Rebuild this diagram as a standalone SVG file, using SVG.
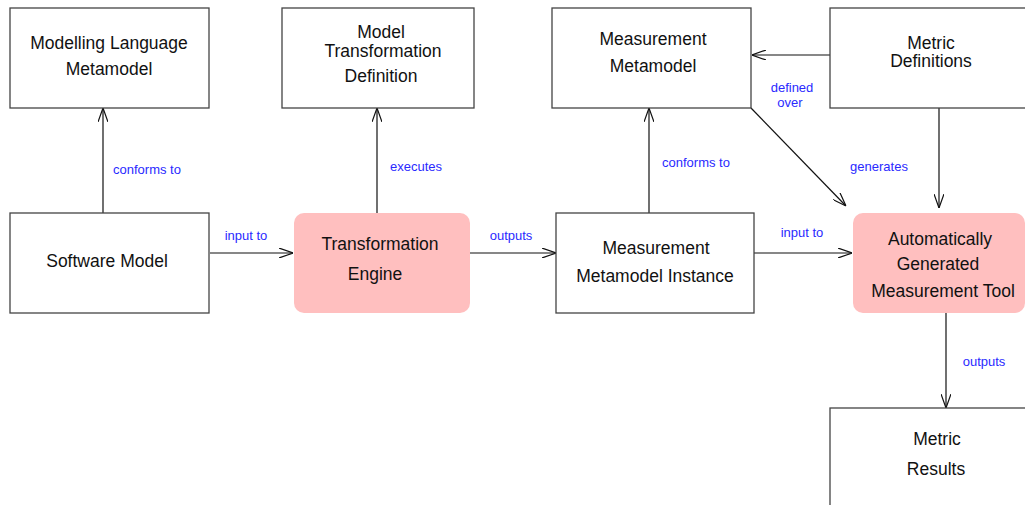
<svg xmlns="http://www.w3.org/2000/svg" width="1025" height="505" viewBox="0 0 1025 505">
<defs>
<style>
.box{fill:#fff;stroke:#444;stroke-width:1.3}
.pink{fill:#ffbfbf;stroke:none}
.t{font-family:"Liberation Sans",Arial,sans-serif;font-size:17.5px;fill:#111;text-anchor:middle}
.l{font-family:"Liberation Sans",Arial,sans-serif;font-size:13px;fill:#2a2aff;text-anchor:middle}
.c{stroke:#111;stroke-width:1.2;fill:none;marker-end:url(#arr)}
</style>
<marker id="arr" viewBox="0 0 14 10" refX="14" refY="5" markerWidth="14" markerHeight="10" markerUnits="userSpaceOnUse" orient="auto">
<path d="M0,0 L14,5 L0,10" fill="none" stroke="#111" stroke-width="1.2"/>
</marker>
</defs>
<rect width="1025" height="505" fill="#fff"/>
<g id="connectors">
<line class="c" x1="103" y1="213" x2="103" y2="108"/>
<text class="l" x="147" y="174">conforms to</text>
<line class="c" x1="377" y1="213" x2="377" y2="108"/>
<text class="l" x="416" y="171">executes</text>
<line class="c" x1="649" y1="213" x2="649" y2="108"/>
<text class="l" x="696" y="167">conforms to</text>
<line class="c" x1="830" y1="55" x2="752" y2="55"/>
<line class="c" x1="751" y1="108" x2="846" y2="206"/>
<text class="l" x="792" y="92">defined</text>
<text class="l" x="790" y="107">over</text>
<line class="c" x1="939" y1="108" x2="939" y2="208"/>
<text class="l" x="879" y="171">generates</text>
<line class="c" x1="210" y1="253" x2="293" y2="253"/>
<text class="l" x="246" y="240">input to</text>
<line class="c" x1="470" y1="253" x2="556" y2="253"/>
<text class="l" x="511" y="240">outputs</text>
<line class="c" x1="754" y1="253" x2="852" y2="253"/>
<text class="l" x="802" y="237">input to</text>
<line class="c" x1="946" y1="313" x2="946" y2="408"/>
<text class="l" x="984" y="366">outputs</text>
</g>
<g id="modelling-language-metamodel">
<rect class="box" x="10" y="8" width="199" height="100"/>
<text class="t" x="109" y="49">Modelling Language</text>
<text class="t" x="109" y="75">Metamodel</text>
</g>
<g id="model-transformation-definition">
<rect class="box" x="282" y="8" width="192" height="100"/>
<text class="t" x="381" y="38">Model</text>
<text class="t" x="383" y="57">Transformation</text>
<text class="t" x="381" y="82">Definition</text>
</g>
<g id="measurement-metamodel">
<rect class="box" x="552" y="8" width="199" height="100"/>
<text class="t" x="653" y="45">Measurement</text>
<text class="t" x="653" y="72">Metamodel</text>
</g>
<g id="metric-definitions">
<rect class="box" x="830" y="8" width="210" height="100"/>
<text class="t" x="931" y="49">Metric</text>
<text class="t" x="931" y="67">Definitions</text>
</g>
<g id="software-model">
<rect class="box" x="10" y="213" width="199" height="100"/>
<text class="t" x="107" y="267">Software Model</text>
</g>
<g id="transformation-engine">
<rect class="pink" x="294" y="213" width="176" height="100" rx="10"/>
<text class="t" x="380" y="250">Transformation</text>
<text class="t" x="375" y="280">Engine</text>
</g>
<g id="measurement-metamodel-instance">
<rect class="box" x="556" y="213" width="198" height="100"/>
<text class="t" x="656" y="254">Measurement</text>
<text class="t" x="655" y="282">Metamodel Instance</text>
</g>
<g id="automatically-generated-measurement-tool">
<rect class="pink" x="853" y="213" width="172" height="100" rx="10"/>
<text class="t" x="940" y="245">Automatically</text>
<text class="t" x="938" y="270">Generated</text>
<text class="t" x="943" y="297">Measurement Tool</text>
</g>
<g id="metric-results">
<rect class="box" x="830" y="408" width="210" height="110"/>
<text class="t" x="937" y="445">Metric</text>
<text class="t" x="936" y="475">Results</text>
</g>
</svg>
